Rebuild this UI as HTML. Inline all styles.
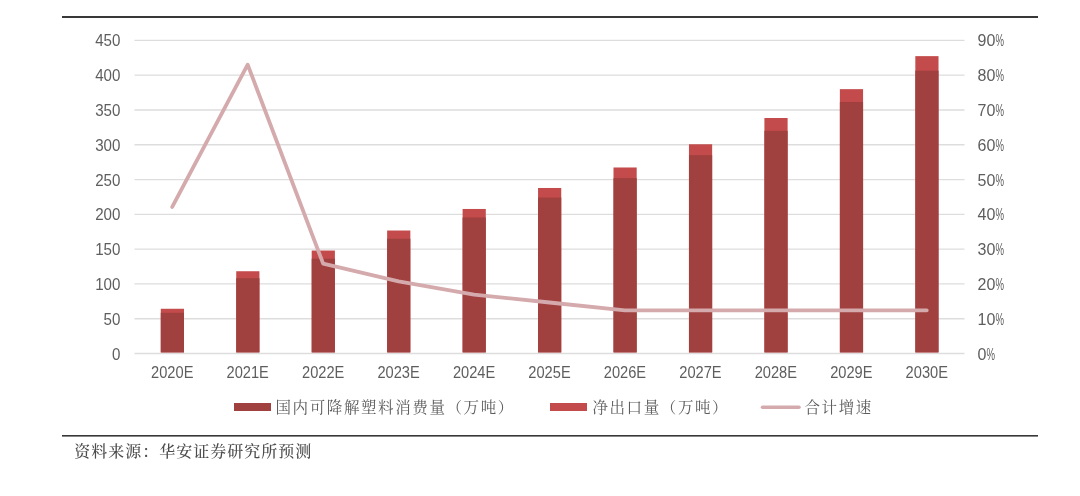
<!DOCTYPE html>
<html lang="zh-CN">
<head>
<meta charset="utf-8">
<title>国内可降解塑料消费量与净出口量预测</title>
<style>
html,body{margin:0;padding:0;background:#fff;}
body{width:1080px;height:496px;overflow:hidden;position:relative;}
svg{position:absolute;left:0;top:0;display:block;}
.num{font-family:"Liberation Sans",sans-serif;font-size:16px;fill:#5e5e5e;}
.kai{font-family:"Liberation Serif","Noto Serif CJK SC",serif;}
.leg{font-size:15.5px;letter-spacing:1.6px;font-weight:400;fill:#5c5c5c;}
.src{font-size:16px;letter-spacing:1px;font-weight:500;fill:#4c4c4c;}
</style>
</head>
<body>
<svg width="1080" height="496" viewBox="0 0 1080 496">
<rect width="1080" height="496" fill="#ffffff"/>

<rect x="62" y="16" width="976" height="2" fill="#383838"/>
<rect x="62" y="435" width="976" height="1.6" fill="#383838"/>
<line x1="134.5" x2="964.5" y1="353.50" y2="353.50" stroke="#DDDDDD" stroke-width="1.35"/>
<line x1="134.5" x2="964.5" y1="318.71" y2="318.71" stroke="#DDDDDD" stroke-width="1.35"/>
<line x1="134.5" x2="964.5" y1="283.92" y2="283.92" stroke="#DDDDDD" stroke-width="1.35"/>
<line x1="134.5" x2="964.5" y1="249.13" y2="249.13" stroke="#DDDDDD" stroke-width="1.35"/>
<line x1="134.5" x2="964.5" y1="214.34" y2="214.34" stroke="#DDDDDD" stroke-width="1.35"/>
<line x1="134.5" x2="964.5" y1="179.55" y2="179.55" stroke="#DDDDDD" stroke-width="1.35"/>
<line x1="134.5" x2="964.5" y1="144.76" y2="144.76" stroke="#DDDDDD" stroke-width="1.35"/>
<line x1="134.5" x2="964.5" y1="109.97" y2="109.97" stroke="#DDDDDD" stroke-width="1.35"/>
<line x1="134.5" x2="964.5" y1="75.18" y2="75.18" stroke="#DDDDDD" stroke-width="1.35"/>
<line x1="134.5" x2="964.5" y1="40.39" y2="40.39" stroke="#DDDDDD" stroke-width="1.35"/>
<text class="num" transform="translate(120.4,359.50) scale(0.945,1)" text-anchor="end">0</text>
<text class="num" transform="translate(986.50,359.50)" text-anchor="end">0</text>
<text class="num" transform="translate(986.50,359.50) scale(0.6,1)">%</text>
<text class="num" transform="translate(120.4,324.71) scale(0.945,1)" text-anchor="end">50</text>
<text class="num" transform="translate(995.40,324.71)" text-anchor="end">10</text>
<text class="num" transform="translate(995.40,324.71) scale(0.6,1)">%</text>
<text class="num" transform="translate(120.4,289.92) scale(0.945,1)" text-anchor="end">100</text>
<text class="num" transform="translate(995.40,289.92)" text-anchor="end">20</text>
<text class="num" transform="translate(995.40,289.92) scale(0.6,1)">%</text>
<text class="num" transform="translate(120.4,255.13) scale(0.945,1)" text-anchor="end">150</text>
<text class="num" transform="translate(995.40,255.13)" text-anchor="end">30</text>
<text class="num" transform="translate(995.40,255.13) scale(0.6,1)">%</text>
<text class="num" transform="translate(120.4,220.34) scale(0.945,1)" text-anchor="end">200</text>
<text class="num" transform="translate(995.40,220.34)" text-anchor="end">40</text>
<text class="num" transform="translate(995.40,220.34) scale(0.6,1)">%</text>
<text class="num" transform="translate(120.4,185.55) scale(0.945,1)" text-anchor="end">250</text>
<text class="num" transform="translate(995.40,185.55)" text-anchor="end">50</text>
<text class="num" transform="translate(995.40,185.55) scale(0.6,1)">%</text>
<text class="num" transform="translate(120.4,150.76) scale(0.945,1)" text-anchor="end">300</text>
<text class="num" transform="translate(995.40,150.76)" text-anchor="end">60</text>
<text class="num" transform="translate(995.40,150.76) scale(0.6,1)">%</text>
<text class="num" transform="translate(120.4,115.97) scale(0.945,1)" text-anchor="end">350</text>
<text class="num" transform="translate(995.40,115.97)" text-anchor="end">70</text>
<text class="num" transform="translate(995.40,115.97) scale(0.6,1)">%</text>
<text class="num" transform="translate(120.4,81.18) scale(0.945,1)" text-anchor="end">400</text>
<text class="num" transform="translate(995.40,81.18)" text-anchor="end">80</text>
<text class="num" transform="translate(995.40,81.18) scale(0.6,1)">%</text>
<text class="num" transform="translate(120.4,46.39) scale(0.945,1)" text-anchor="end">450</text>
<text class="num" transform="translate(995.40,46.39)" text-anchor="end">90</text>
<text class="num" transform="translate(995.40,46.39) scale(0.6,1)">%</text>
<rect x="160.78" y="308.77" width="23.2" height="43.63" fill="#C34B4B"/>
<rect x="160.78" y="312.80" width="23.2" height="39.60" fill="#A0403F"/>
<rect x="236.23" y="271.24" width="23.2" height="81.16" fill="#C34B4B"/>
<rect x="236.23" y="278.19" width="23.2" height="74.21" fill="#A0403F"/>
<rect x="311.69" y="250.53" width="23.2" height="101.87" fill="#C34B4B"/>
<rect x="311.69" y="258.73" width="23.2" height="93.67" fill="#A0403F"/>
<rect x="387.14" y="230.51" width="23.2" height="121.89" fill="#C34B4B"/>
<rect x="387.14" y="238.78" width="23.2" height="113.62" fill="#A0403F"/>
<rect x="462.60" y="208.97" width="23.2" height="143.43" fill="#C34B4B"/>
<rect x="462.60" y="217.52" width="23.2" height="134.88" fill="#A0403F"/>
<rect x="538.05" y="187.98" width="23.2" height="164.42" fill="#C34B4B"/>
<rect x="538.05" y="197.57" width="23.2" height="154.83" fill="#A0403F"/>
<rect x="613.50" y="167.48" width="23.2" height="184.92" fill="#C34B4B"/>
<rect x="613.50" y="178.11" width="23.2" height="174.29" fill="#A0403F"/>
<rect x="688.96" y="144.26" width="23.2" height="208.14" fill="#C34B4B"/>
<rect x="688.96" y="155.18" width="23.2" height="197.22" fill="#A0403F"/>
<rect x="764.41" y="117.99" width="23.2" height="234.41" fill="#C34B4B"/>
<rect x="764.41" y="130.85" width="23.2" height="221.55" fill="#A0403F"/>
<rect x="839.87" y="89.15" width="23.2" height="263.25" fill="#C34B4B"/>
<rect x="839.87" y="102.01" width="23.2" height="250.39" fill="#A0403F"/>
<rect x="915.32" y="56.14" width="23.2" height="296.26" fill="#C34B4B"/>
<rect x="915.32" y="70.73" width="23.2" height="281.67" fill="#A0403F"/>
<text class="num" transform="translate(172.23,378.3) scale(0.915,1)" font-size="16" text-anchor="middle">2020E</text>
<text class="num" transform="translate(247.68,378.3) scale(0.915,1)" font-size="16" text-anchor="middle">2021E</text>
<text class="num" transform="translate(323.14,378.3) scale(0.915,1)" font-size="16" text-anchor="middle">2022E</text>
<text class="num" transform="translate(398.59,378.3) scale(0.915,1)" font-size="16" text-anchor="middle">2023E</text>
<text class="num" transform="translate(474.05,378.3) scale(0.915,1)" font-size="16" text-anchor="middle">2024E</text>
<text class="num" transform="translate(549.50,378.3) scale(0.915,1)" font-size="16" text-anchor="middle">2025E</text>
<text class="num" transform="translate(624.95,378.3) scale(0.915,1)" font-size="16" text-anchor="middle">2026E</text>
<text class="num" transform="translate(700.41,378.3) scale(0.915,1)" font-size="16" text-anchor="middle">2027E</text>
<text class="num" transform="translate(775.86,378.3) scale(0.915,1)" font-size="16" text-anchor="middle">2028E</text>
<text class="num" transform="translate(851.32,378.3) scale(0.915,1)" font-size="16" text-anchor="middle">2029E</text>
<text class="num" transform="translate(926.77,378.3) scale(0.915,1)" font-size="16" text-anchor="middle">2030E</text>
<polyline points="172.23,206.95 247.68,64.65 323.14,263.60 398.59,281.32 474.05,294.52 549.50,302.51 624.95,310.33 700.41,310.33 775.86,310.33 851.32,310.33 926.77,310.33" fill="none" stroke="#D4AAAD" stroke-width="3.8" stroke-linejoin="round" stroke-linecap="round"/>
<rect x="234" y="403" width="37" height="8" fill="#A0403F"/>
<text class="kai leg" x="275.5" y="413">国内可降解塑料消费量（万吨）</text>
<rect x="550" y="403" width="37" height="8" fill="#C34B4B"/>
<text class="kai leg" x="592.4" y="413">净出口量（万吨）</text>
<line x1="762.5" x2="799" y1="407.2" y2="407.2" stroke="#D4AAAD" stroke-width="3.5" stroke-linecap="round"/>
<text class="kai leg" x="804.5" y="413">合计增速</text>
<text class="kai src" x="74.2" y="456.8">资料来源：华安证券研究所预测</text>
</svg>
</body>
</html>
